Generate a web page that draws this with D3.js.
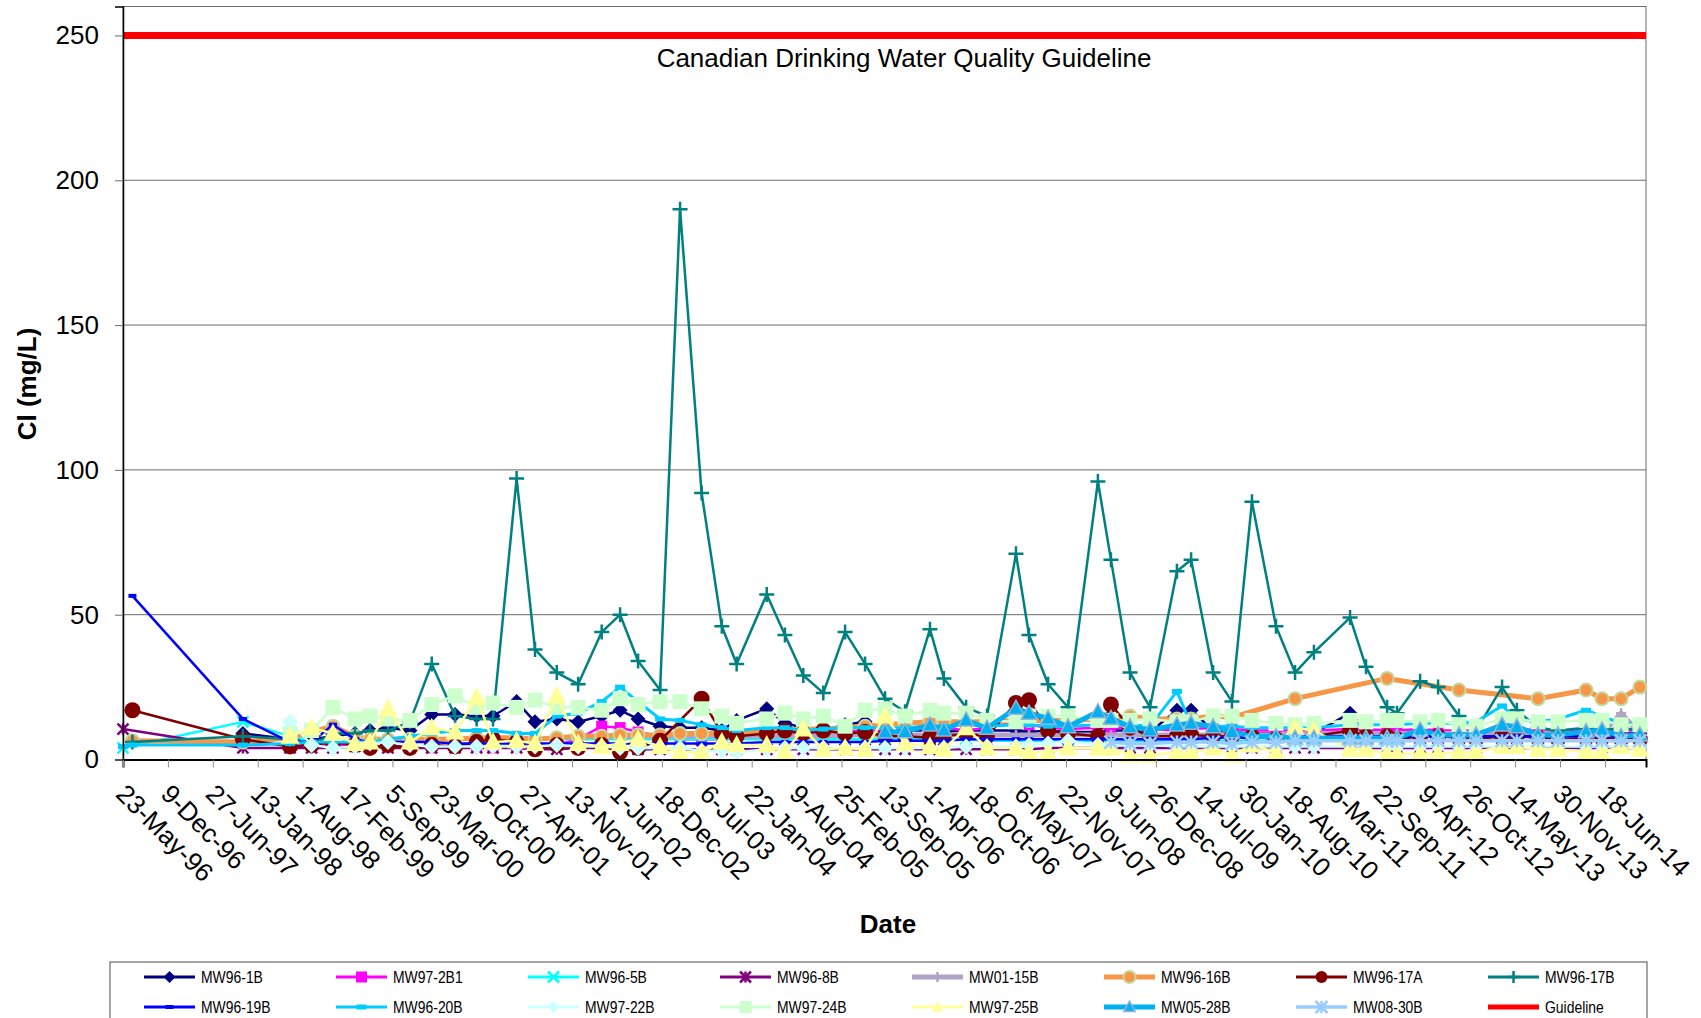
<!DOCTYPE html>
<html>
<head>
<meta charset="utf-8">
<script src="https://cdn.jsdelivr.net/npm/d3@7"></script>
<style>
  body { margin: 0; background: #fff; }
  svg { display: block; font-family: "Liberation Sans", Arial, sans-serif; }
</style>
</head>
<body>
<div id="chart"></div>
<script>
// sampling dates (every series is aligned to these, null = not sampled)
var sampleDates = [
  "1996-05-23","1996-07-04","1997-11-08","1998-06-06","1998-09-10","1998-12-14","1999-03-22","1999-05-28","1999-08-16","1999-11-22",
  "2000-02-27","2000-06-10","2000-09-14","2000-11-26","2001-03-11","2001-06-01","2001-09-06","2001-12-10","2002-03-25","2002-06-15",
  "2002-09-03","2002-12-10","2003-03-09","2003-06-13","2003-09-11","2003-11-16","2004-03-29","2004-06-18","2004-09-08","2004-12-06",
  "2005-03-13","2005-06-10","2005-09-07","2005-12-05","2006-03-26","2006-05-27","2006-09-03","2006-12-05","2007-04-13","2007-06-10",
  "2007-09-03","2007-12-01","2008-04-12","2008-06-09","2008-09-02","2008-11-30","2009-03-30","2009-06-01","2009-09-07","2009-11-30",
  "2010-02-27","2010-06-14","2010-09-07","2010-11-30","2011-05-10","2011-07-20","2011-10-22","2011-12-05","2012-03-17","2012-06-05",
  "2012-09-06","2012-11-21","2013-03-17","2013-05-22","2013-08-24","2013-11-21","2014-03-26","2014-06-05","2014-08-29","2014-11-21"
];

var mw96_1b = [
  null,null,9,7,7,8,9,10,11,10,
  15.5,15.5,15,15,20,13,14,13,15,17,
  14,11.5,11,11,10,13.5,17.5,12.5,11,10,
  12,13,10,10,10,9.5,10,10,10,9.5,
  10,9.5,9.5,10,10,9.5,17,17,10,9.5,
  9,9,9,9,16,10,10,9.5,9.5,9.5,
  9,9,9,9,9,9,9,9,9,9
];
var mw97_2b1 = [
  null,null,null,6,5,5,5,4.5,4.5,4.5,
  4,4.5,4.5,4,4.5,5,5,7,11.5,11,
  9.5,8,7,7,7,8,8.5,8.5,9,9,
  9.5,10,10,10,12,11,10,11,13,12,
  11,10.5,11,11,11,10.5,10,10.5,11,10.5,
  10,10,10,10,10.5,10.5,10,10,10.5,10,
  10,10,10,10,10.5,10,10,10,10,10
];
var mw96_5b = [
  4,null,13,8,6.5,6,6,6,6.5,7,
  7,7,7,7,7.5,7.5,7,7,7,7,
  7,7,7,7,7,7,7,7,7,7,
  7,7,7,7,7,7,7,6.5,6.5,6.5,
  6.5,6.5,6.5,6.5,6.5,6.5,6.5,6.5,6.5,6.5,
  6.5,6.5,6.5,6.5,6.5,6.5,6.5,6.5,6.5,6.5,
  6.5,6.5,6.5,6.5,6.5,6.5,6.5,6.5,6.5,6.5
];
var mw96_8b = [
  10.5,null,4,4,4,4,4.5,4.5,4,4,
  4,4,4,4,4,3.5,3.5,4,4,3.5,
  3.5,3.5,3.5,3.5,3.5,3.5,3.5,3.5,3.5,3.5,
  3.5,3.5,3.5,3.5,3.5,3.5,3.5,3.5,3.5,3.5,
  4,4,4,4,4,4,4,4,4,4,
  4,4,4,4,4,4,4,4,4,4,
  4,4,4,4,4,4,4,4,4,4
];
var mw01_15b = [
  null,null,null,null,null,null,null,null,null,null,
  null,null,null,null,null,null,null,8,8,8,
  8,8,8,8,8,8,8,8,8,8,
  8.5,8.5,8.5,8.5,8.5,8.5,8.5,8.5,8.5,8.5,
  8.5,8.5,8.5,8.5,8.5,8.5,8.5,8.5,8.5,8.5,
  8.5,8.5,9,9,9,9,9,9,9,9,
  9,9,9,9,9,9,9,9,16,9
];
var mw96_16b = [
  null,6.5,6,7.5,null,11.5,8,7,7,7,
  7,7,7.5,7.5,7.5,7,7.5,8,8,8.5,
  8.5,8.5,9,9,9,9.5,10,10,10.5,10.5,
  11,11.5,12,12.5,13,13,13,13,13.5,13.5,
  13.5,13.5,14,14,15,14,14,14,15,14.5,
  null,null,21,null,null,null,28,null,null,null,
  24,null,null,null,21,null,24,21,21,25
];
var mw96_17a = [
  null,17,7,4.5,5,6,5,4,5,4,
  5,4.5,6,7,6,3.5,5,4,5,2.5,
  4,6.5,null,21,9,8,9,10,9,10,
  9,9.5,8,8,7.5,8,9,8,19.5,20.5,
  10,9,8,19,11,8,8,8.5,8,8,
  8,7,8,8,10,8,8,7,8,8,
  7.5,7,8,8,7.5,7,7.5,7.5,7,7
];
var mw96_17b = [
  null,6,8,7,5,9,9,10,10,13,
  33,15,14,14,97,38,30,26,44,50,
  34,24,190,92,46,33,57,43,29,23,
  44,33,21,16.5,45,28,18,15,71,43,
  26,18,96,69,30,18,65,69,30,20,
  89,46,30,37,49,32,18,16,27,25,
  15,10,25,17,11,10,11,10,11,10
];
var mw96_19b = [
  null,56.5,14,6,6,12,7,6,6,6,
  6,5.5,5.5,5.5,5.5,5.5,5.5,5.5,5.5,5.5,
  5.5,5.5,5.5,5.5,5.5,5.5,6,6,6,6,
  6,6,6.5,6.5,6.5,6.5,7,7,7,7,
  7,7,7,7,7,7,7,7,7.5,7.5,
  7.5,7.5,8,8,8,8,8,8,8,8,
  8,8,8,8,8,8,8,8,8,8
];
var mw96_20b = [
  4.5,5,5,5.5,6,6,6,6,7,8,
  9,10,10,10,9,9,15,16,20,25,
  20,14,13.5,12,11,10,11,11,10,10.5,
  11,11,11,11,11.5,11.5,12,11.5,12,12,
  11.5,11.5,12,12,12,11.5,23.5,12,11.5,11.5,
  11,11,11,11,12,12,12,12,12.5,12.5,
  12.5,13,18.5,14,13,14,17,15,12.5,12
];
var mw97_22b = [
  null,null,null,13,5,4,4.5,5.5,6,5,
  4.5,4.5,4.5,4.5,4.5,4.5,5,4.5,4.5,4,
  4,4,4,3,3,2.5,3.5,4,4,4,
  4,4,4,4,4,4,4.5,4.5,4.5,5,
  5.5,6.5,5,5,5,5,4.5,4.5,4.5,4.5,
  4.5,4.5,4.5,4.5,4.5,4.5,4.5,4.5,4.5,4.5,
  4.5,4.5,4.5,4.5,4.5,4.5,4.5,4.5,4.5,4.5
];
var mw97_24b = [
  null,null,null,9,10,18,14,15,14,13.5,
  19,22,18,19.5,18,20.5,18,18,17,21,
  19,20,20,17.5,15,12.5,14,16,14,15,
  11.5,17,17.5,15,17,16,16,13.5,13,15,
  15,15,13.5,13.5,13.5,14,13,13,15,15,
  13.5,12.5,12,12.5,13.5,13,13.5,13.5,13,13.5,
  12,11.5,14,14,13,13,13.5,13.5,12,12
];
var mw97_25b = [
  null,null,null,8,11,9,5.5,6,17.5,6,
  11,9.5,21.5,6,6.5,5.5,22,5.5,4.5,5.5,
  7,4.5,2.5,2.5,6,5,5,2.5,10.5,3.5,
  4,3.5,15,5.5,4.5,3.5,11,4,4,2.5,
  2.5,4,4,4,1.5,1.5,2.5,2.5,4,1.5,
  5,2.5,11,10,3.5,3.5,2,2,2,2,
  2.5,2.5,4.5,4.5,3.5,3.5,2.5,2.5,4.5,3.5
];
var mw05_28b = [
  null,null,null,null,null,null,null,null,null,null,
  null,null,null,null,null,null,null,null,null,null,
  null,null,null,null,null,null,null,null,null,null,
  null,null,9.5,9.6,11.9,10.2,13.6,10.8,17.7,16,
  14.2,11.3,16.5,14.2,11.3,10.2,11.9,12.5,11.3,9.6,
  7.9,7.9,7.4,7.4,7.4,7.4,7.4,7.4,10.2,8.5,
  8.5,8.5,11.9,11.3,8.5,8.5,9.6,10.2,8,8.5
];
var mw08_30b = [
  null,null,null,null,null,null,null,null,null,null,
  null,null,null,null,null,null,null,null,null,null,
  null,null,null,null,null,null,null,null,null,null,
  null,null,null,null,null,null,null,null,null,null,
  null,null,null,6,5.5,5.5,6,6,6,5.5,
  6,6,6.5,6.5,6.5,6.5,6.5,6.5,6.5,6.5,
  6.5,6.5,6.5,6.5,6.5,6.5,6.5,6.5,6.5,6.5
];
var guidelineValue = 250;

var seriesNames = ["MW96-1B","MW97-2B1","MW96-5B","MW96-8B","MW01-15B","MW96-16B","MW96-17A","MW96-17B",
                   "MW96-19B","MW96-20B","MW97-22B","MW97-24B","MW97-25B","MW05-28B","MW08-30B","Guideline"];
var seriesValues = [mw96_1b, mw97_2b1, mw96_5b, mw96_8b, mw01_15b, mw96_16b, mw96_17a, mw96_17b,
                    mw96_19b, mw96_20b, mw97_22b, mw97_24b, mw97_25b, mw05_28b, mw08_30b];

var tickLabels = ["23-May-96","9-Dec-96","27-Jun-97","13-Jan-98","1-Aug-98","17-Feb-99","5-Sep-99","23-Mar-00",
  "9-Oct-00","27-Apr-01","13-Nov-01","1-Jun-02","18-Dec-02","6-Jul-03","22-Jan-04","9-Aug-04","25-Feb-05",
  "13-Sep-05","1-Apr-06","18-Oct-06","6-May-07","22-Nov-07","9-Jun-08","26-Dec-08","14-Jul-09","30-Jan-10",
  "18-Aug-10","6-Mar-11","22-Sep-11","9-Apr-12","26-Oct-12","14-May-13","30-Nov-13","18-Jun-14"];
var xMaxLabel = "18-Dec-14";
var yTicks = [0, 50, 100, 150, 200, 250];

// styles per series (same order as seriesNames)
var styles = [
  {color: "#000080", w: 2.5, m: "diamond", s: 7.5},
  {color: "#FF00FF", w: 2.5, m: "square", s: 5.5},
  {color: "#00FFFF", w: 2.5, m: "x", s: 5.5},
  {color: "#800080", w: 2.5, m: "asterisk", s: 5.5},
  {color: "#B3A2C7", w: 5, m: "plus", s: 5},
  {color: "#F79646", w: 5, m: "circle", s: 6.5, fill: "#F79646", stroke: "#C4D79B"},
  {color: "#800000", w: 2.5, m: "circle", s: 8},
  {color: "#008080", w: 2.5, m: "plus", s: 7.5},
  {color: "#0000FF", w: 2.5, m: "dash", s: 4},
  {color: "#00CCFF", w: 3, m: "dash", s: 5},
  {color: "#CCFFFF", w: 2.5, m: "diamond", s: 8},
  {color: "#CCFFCC", w: 2.5, m: "square", s: 7.5},
  {color: "#FFFF99", w: 2.5, m: "triangle", s: 10},
  {color: "#00B0F0", w: 5, m: "triangle", s: 8, fill: "#00B0F0", stroke: "#95B3D7"},
  {color: "#99CCFF", w: 3.5, m: "asterisk", s: 6.5},
  {color: "#FF0000", w: 7, m: null}
];

var W = 1701, H = 1018;
var plot = {left: 123, right: 1646, top: 6.5, bottom: 759.5};

var parseDate = d3.timeParse("%Y-%m-%d"),
    parseTick = d3.timeParse("%d-%b-%y");

var tickDates = tickLabels.map(parseTick);

var x = d3.scaleTime()
    .domain([tickDates[0], parseTick(xMaxLabel)])
    .range([plot.left, plot.right]);
var y = d3.scaleLinear()
    .domain([0, 260])
    .range([plot.bottom, plot.top]);

var svg = d3.select("#chart").append("svg")
    .attr("width", W)
    .attr("height", H);

// gridlines
svg.append("g")
    .selectAll("line")
    .data(yTicks.filter(function(v) { return v > 0; }))
  .enter().append("line")
    .attr("x1", plot.left).attr("x2", plot.right)
    .attr("y1", function(d) { return y(d); })
    .attr("y2", function(d) { return y(d); })
    .attr("stroke", "#6b6b6b")
    .attr("stroke-width", 1);

// plot frame (top / right grey)
svg.append("rect")
    .attr("x", plot.left).attr("y", plot.top)
    .attr("width", plot.right - plot.left)
    .attr("height", plot.bottom - plot.top)
    .attr("fill", "none")
    .attr("stroke", "#6b6b6b")
    .attr("stroke-width", 1);

function markerPath(type, s) {
  switch (type) {
    case "diamond": return "M0," + (-s) + "L" + s + ",0L0," + s + "L" + (-s) + ",0Z";
    case "square": return "M" + (-s) + "," + (-s) + "H" + s + "V" + s + "H" + (-s) + "Z";
    case "triangle": return "M0," + (-s) + "L" + (s * 0.95) + "," + (s * 0.75) + "L" + (-s * 0.95) + "," + (s * 0.75) + "Z";
    case "x": return "M" + (-s) + "," + (-s) + "L" + s + "," + s + "M" + (-s) + "," + s + "L" + s + "," + (-s);
    case "asterisk": return "M" + (-s) + "," + (-s) + "L" + s + "," + s + "M" + (-s) + "," + s + "L" + s + "," + (-s) + "M0," + (-s) + "V" + s;
    case "plus": return "M" + (-s) + ",0H" + s + "M0," + (-s) + "V" + s;
    case "dash": return "M" + (-s) + "," + (-s * 0.5) + "H" + s + "V" + (s * 0.5) + "H" + (-s) + "Z";
  }
  return "";
}

function drawMarker(g, st, cx, cy) {
  var stroked = (st.m === "x" || st.m === "asterisk" || st.m === "plus");
  if (st.m === "circle") {
    g.append("circle")
      .attr("cx", cx).attr("cy", cy).attr("r", st.s)
      .attr("fill", st.fill || st.color)
      .attr("stroke", st.stroke || st.color)
      .attr("stroke-width", st.stroke ? 2 : 0);
  } else {
    g.append("path")
      .attr("transform", "translate(" + cx + "," + cy + ")")
      .attr("d", markerPath(st.m, st.s))
      .attr("fill", stroked ? "none" : (st.fill || st.color))
      .attr("stroke", stroked ? st.color : (st.stroke || "none"))
      .attr("stroke-width", stroked ? 2.5 : (st.stroke ? 1.5 : 0));
  }
}

var line = d3.line()
    .x(function(d) { return x(d.date); })
    .y(function(d) { return y(d.value); });

var dates = sampleDates.map(parseDate);

// Add the series
seriesValues.forEach(function(vals, i) {
  var st = styles[i];
  var pts = [];
  vals.forEach(function(v, k) {
    if (v !== null) pts.push({date: dates[k], value: v});
  });
  var g = svg.append("g").attr("class", "series");
  g.append("path")
    .datum(pts)
    .attr("d", line)
    .attr("fill", "none")
    .attr("stroke", st.color)
    .attr("stroke-width", st.w)
    .attr("stroke-linejoin", "round");
  pts.forEach(function(p) {
    drawMarker(g, st, x(p.date), y(p.value));
  });
});

// guideline
svg.append("line")
    .attr("x1", x.range()[0]).attr("x2", x.range()[1])
    .attr("y1", y(guidelineValue)).attr("y2", y(guidelineValue))
    .attr("stroke", styles[15].color)
    .attr("stroke-width", styles[15].w);

svg.append("text")
    .attr("x", 904).attr("y", 67)
    .attr("text-anchor", "middle")
    .style("font-size", "26px")
    .text("Canadian Drinking Water Quality Guideline");

// Y axis
var yAxis = svg.append("g")
    .attr("transform", "translate(" + plot.left + ",0)")
    .call(d3.axisLeft(y).tickValues(yTicks).tickSize(8).tickPadding(16).tickFormat(d3.format("d")));
yAxis.select(".domain").attr("stroke", "#000").attr("stroke-width", 1.5);
yAxis.selectAll(".tick line").attr("stroke", "#6b6b6b");
yAxis.selectAll(".tick text")
    .style("font-size", "26px")
    .style("font-family", "'Liberation Sans', Arial, sans-serif")
    .attr("fill", "#000");

// X axis
var xAxis = svg.append("g")
    .attr("transform", "translate(0," + plot.bottom + ")")
    .call(d3.axisBottom(x).tickValues(tickDates).tickSize(8)
      .tickFormat(function(d, i) { return tickLabels[i]; }));
xAxis.select(".domain").attr("stroke", "#000").attr("stroke-width", 2);
xAxis.selectAll(".tick line").attr("stroke", "#8c8c8c");
xAxis.selectAll(".tick text")
    .attr("y", 0).attr("dy", 0)
    .attr("text-anchor", "start")
    .attr("transform", "translate(-9,36) rotate(45)")
    .style("font-size", "26px")
    .style("font-family", "'Liberation Sans', Arial, sans-serif")
    .attr("fill", "#000");

// axis titles
svg.append("text")
    .attr("transform", "translate(36,384) rotate(-90)")
    .attr("text-anchor", "middle")
    .style("font-size", "26px")
    .style("font-weight", "bold")
    .text("Cl (mg/L)");

svg.append("text")
    .attr("x", 888).attr("y", 933)
    .attr("text-anchor", "middle")
    .style("font-size", "26px")
    .style("font-weight", "bold")
    .text("Date");

// legend
var legend = svg.append("g");
legend.append("rect")
    .attr("x", 110).attr("y", 962)
    .attr("width", 1537).attr("height", 80)
    .attr("fill", "#fff")
    .attr("stroke", "#6b6b6b")
    .attr("stroke-width", 1.2);

seriesNames.forEach(function(name, i) {
  var st = styles[i];
  var col = i % 8, row = Math.floor(i / 8);
  var lx = 144 + col * 192, ly = 977 + row * 30;
  var g = legend.append("g");
  g.append("line")
    .attr("x1", lx).attr("x2", lx + 51)
    .attr("y1", ly).attr("y2", ly)
    .attr("stroke", st.color)
    .attr("stroke-width", Math.max(3, Math.min(st.w, 5)));
  if (st.m) {
    var small = Object.assign({}, st, {s: Math.min(st.s, 6)});
    drawMarker(g, small, lx + 25.5, ly);
  }
  g.append("text")
    .attr("transform", "translate(" + (lx + 57) + "," + (ly + 6) + ") scale(0.82,1)")
    .style("font-size", "17px")
    .text(name);
});
</script>
</body>
</html>
